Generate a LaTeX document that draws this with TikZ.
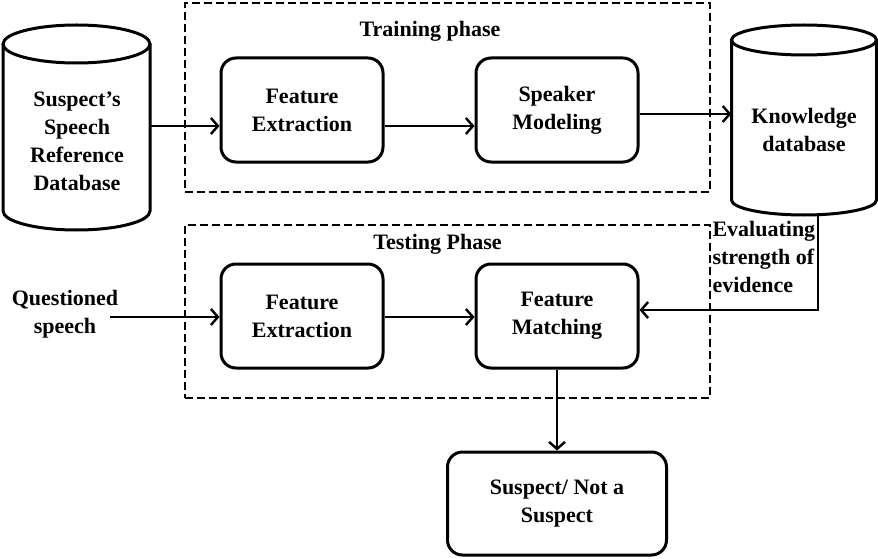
\documentclass[tikz,border=0pt]{standalone}
\usepackage{fontspec}
\setmainfont{Liberation Serif}
\usetikzlibrary{arrows.meta}
\begin{document}
\begin{tikzpicture}[x=1pt,y=-1pt,
  every node/.style={font=\fontsize{22}{28}\selectfont\bfseries, align=center},
  proc/.style={draw, line width=3pt, rounded corners=15pt, minimum width=162pt, minimum height=104pt, inner sep=0pt},
  phase/.style={draw, line width=2.5pt, dash pattern=on 8pt off 4pt, inner sep=0pt},
  arr/.style={line width=2.6pt, -{Straight Barb[length=7pt,width=16pt,line width=2.4pt]}},
  cyl/.style={line width=3pt}]
\useasboundingbox (0,0) rectangle (878,559);

% phase boxes
\node[phase, minimum width=525pt, minimum height=189pt] (train) at (447.5,97.5) {};
\node (trainlbl) at (430,31) {Training phase};
\node[phase, minimum width=525pt, minimum height=173pt] (test) at (447.5,311.5) {};
\node (testlbl) at (437.5,244) {Testing Phase};

% left database cylinder
\draw[cyl] (3,44) -- (3,211) arc[start angle=180,end angle=360,x radius=73.5pt,y radius=19pt] -- (150,44);
\draw[cyl] (76.5,44) ellipse [x radius=73.5pt, y radius=19pt];
\node[minimum width=147pt, minimum height=205pt, inner sep=0pt] (refdb) at (76.5,127.5) {};
\node (refdbtxt) at (77,141) {Suspect’s\\Speech\\Reference\\Database};

% right database cylinder
\draw[cyl] (731.5,40) -- (731.5,200) arc[start angle=180,end angle=360,x radius=72.5pt,y radius=15pt] -- (876.5,40);
\draw[cyl] (804,40) ellipse [x radius=72.5pt, y radius=15pt];
\node[minimum width=145pt, minimum height=190pt, inner sep=0pt] (kdb) at (804,120) {};
\node (kdbtxt) at (804,130) {Knowledge\\database};

% process boxes
\node[proc] (fe1) at (302,110) {Feature\\Extraction};
\node[proc] (sm) at (557,110) {Speaker\\Modeling};
\node[proc] (fe2) at (302,316) {Feature\\Extraction};
\node[proc] (fm) at (557,316) {Feature\\Matching};
\node[proc, minimum width=219pt, minimum height=103pt] (sus) at (557,503.5) {Suspect/ Not a\\Suspect};

\node (qs) at (65,314) {Questioned\\speech};
\node[anchor=west, align=left] (eval) at (709,257) {Evaluating\\strength of\\evidence};

% connectors
\coordinate (y1) at (0,126);
\coordinate (y2) at (0,114);
\coordinate (y3) at (0,317);
\draw[arr] (refdb.east |- y1) -- (fe1.west |- y1);
\draw[arr] (fe1.east |- y1) -- (sm.west |- y1);
\draw[arr] (sm.east |- y2) -- (kdb.west |- y2);
\coordinate (qsend) at (110,317);
\draw[arr] (qsend) -- (fe2.west |- y3);
\draw[arr] (fe2.east |- y3) -- (fm.west |- y3);
\coordinate (fbtop) at (818,214.5);
\coordinate (fbcorner) at (818,310);
\draw[arr] (fbtop) -- (fbcorner) -- (fm.east |- fbcorner);
\draw[arr] (fm.south) -- (sus.north);
\end{tikzpicture}
\end{document}
